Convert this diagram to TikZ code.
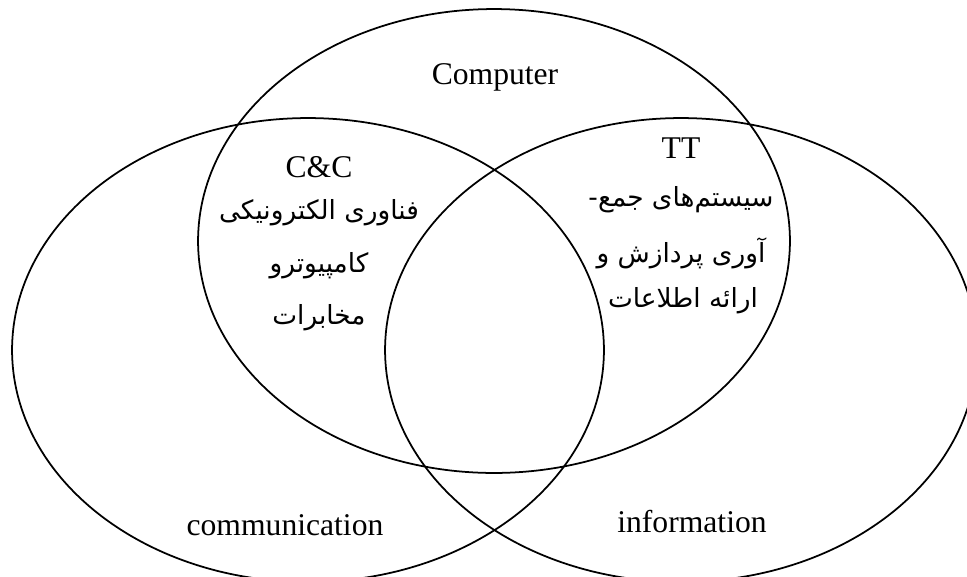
\documentclass[tikz,border=0pt]{standalone}
\usepackage{fontspec}
\setmainfont{Liberation Serif}
\newfontfamily\arabicfont[Script=Arabic]{DejaVu Sans}
\TeXXeTstate=1
\usetikzlibrary{shapes.geometric}
\tikzset{
  vennset/.style={draw, ellipse, line width=1pt, inner sep=0pt,
    minimum width=11.84cm, minimum height=9.28cm},
  enlabel/.style={font=\fontsize{18}{20}\selectfont, inner sep=0pt},
  falabel/.style={font=\arabicfont\fontsize{15}{17}\selectfont, inner sep=0pt}
}
\begin{document}
\begin{tikzpicture}[x=0.02cm,y=-0.02cm]
\useasboundingbox (0,0) rectangle (967,576);
\clip (0,0) rectangle (967,576);
% Three overlapping sets
\node[vennset] (comp) at (494,241) {};
\node[vennset] (comm) at (308,350) {};
\node[vennset] (info) at (681,350) {};

% Set names
\node[enlabel, anchor=base] (compname) at (495,84) {Computer};
\node[enlabel, anchor=base] (commname) at (285,535) {communication};
\node[enlabel, anchor=base] (infoname) at (692,532) {information};

% Computer and communication
\node[enlabel, anchor=base] (cc) at (319,177) {C\&C};
\node[falabel] (ccA) at (319,213) {\beginR فناوری الکترونیکی\endR};
\node[falabel] (ccB) at (319,266) {\beginR کامپیوترو\endR};
\node[falabel] (ccC) at (319,318) {\beginR مخابرات\endR};

% Computer and information
\node[enlabel, anchor=base] (tt) at (681,158) {TT};
\node[falabel] (ttA) at (681,200) {\beginR سیستم‌های جمع-\endR};
\node[falabel] (ttB) at (681,253) {\beginR آوری پردازش و\endR};
\node[falabel] (ttC) at (683,301) {\beginR ارائه اطلاعات\endR};
\end{tikzpicture}
\end{document}
